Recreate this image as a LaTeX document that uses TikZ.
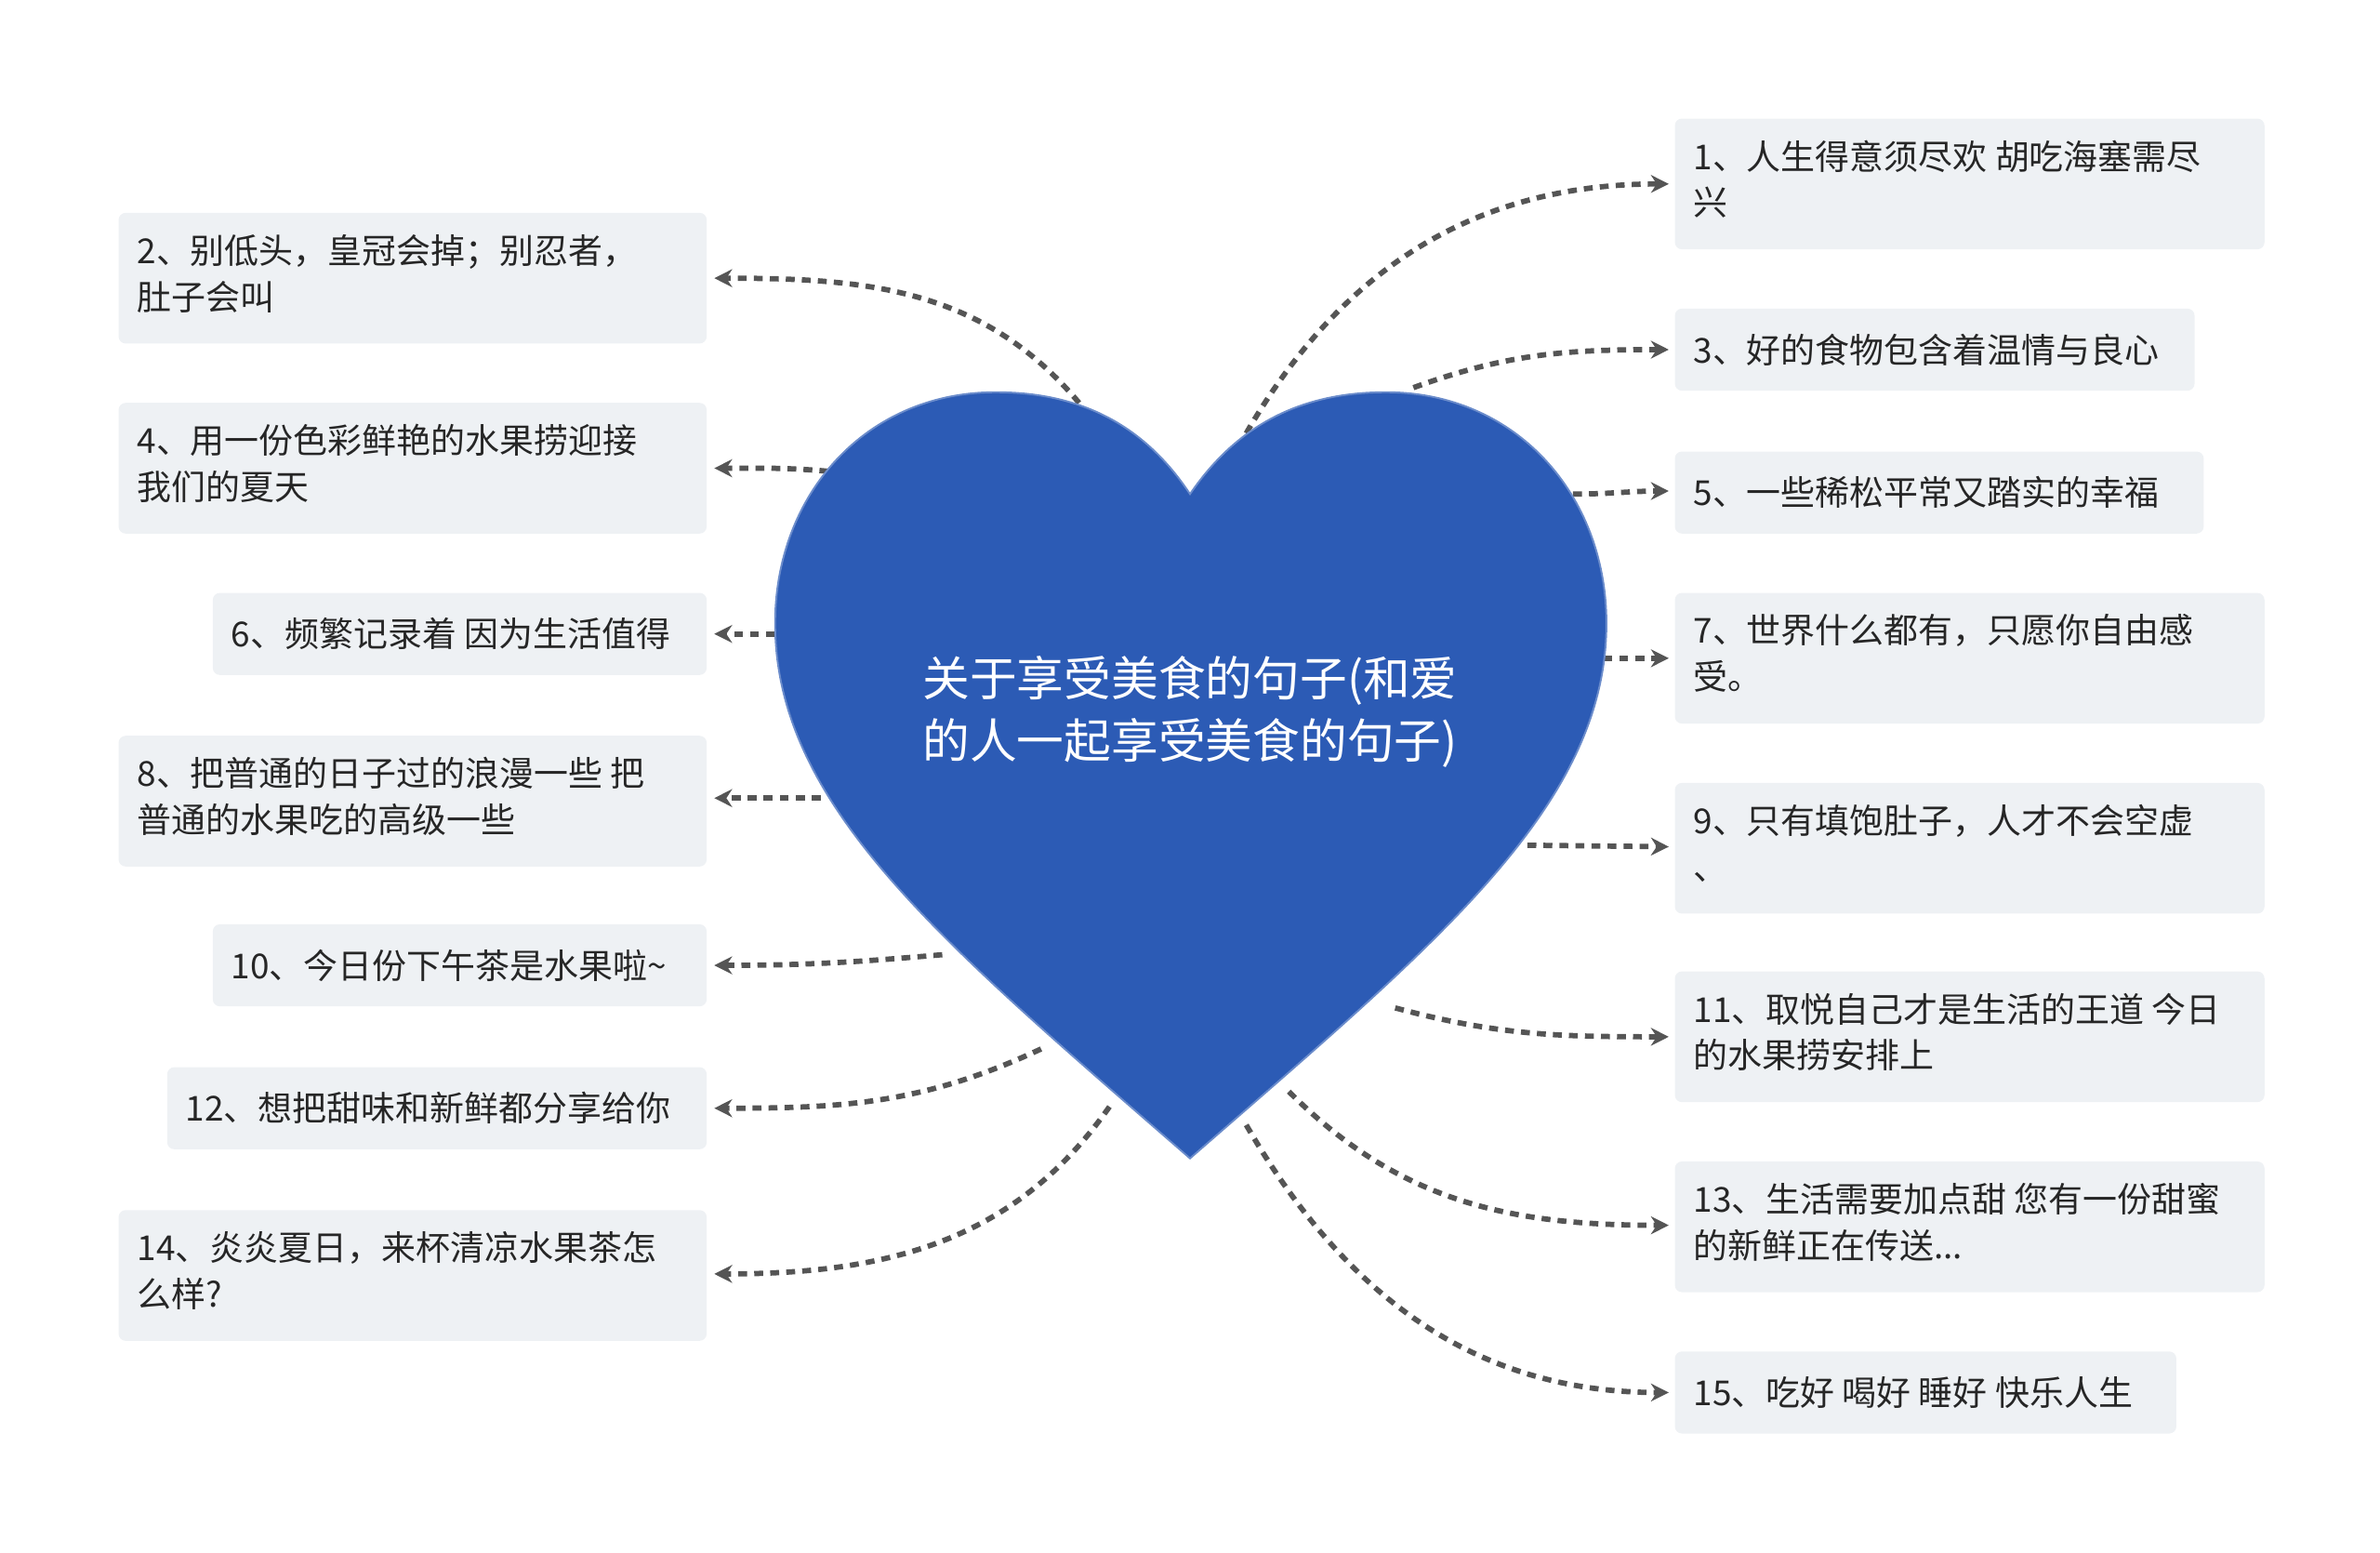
\documentclass[tikz,border=0pt]{standalone}
\usepackage{fontspec}
\setmainfont{Noto Sans CJK SC}
\usetikzlibrary{arrows.meta}
\definecolor{boxgray}{HTML}{EEF1F4}
\definecolor{heartblue}{HTML}{2C5BB5}
\definecolor{linkgray}{HTML}{555555}
\tikzset{
  leaf/.style={fill=boxgray,rounded corners=4pt,inner sep=0pt,font=\fontsize{19.3}{26}\selectfont,text=black!85},
  link/.style={draw=linkgray,line width=3pt,dash pattern=on 5pt off 4pt,-{Stealth[length=10pt,width=10pt]}}
}
\begin{document}
\begin{tikzpicture}[x=0.03cm,y=-0.03cm]
\useasboundingbox (0,0) rectangle (1566,1021);
% links from the heart
\draw[link] (710,265) to[out=130,in=0] (470,183);
\draw[link] (545,310) to[out=175,in=0] (470,308);
\draw[link] (510,417) -- (470,417);
\draw[link] (540,525) -- (470,525);
\draw[link] (620,628) to[out=185,in=0] (470,635);
\draw[link] (685,690) to[out=205,in=0] (470,729);
\draw[link] (730,728) to[out=235,in=0] (470,838);
\draw[link] (820,285) to[out=60,in=180] (1098,121);
\draw[link] (930,255) to[out=20,in=180] (1098,230);
\draw[link] (1035,325) to[out=0,in=180] (1098,323);
\draw[link] (1055,433) -- (1098,433);
\draw[link] (1005,556) -- (1098,557);
\draw[link] (918,663) to[out=-15,in=180] (1098,682);
\draw[link] (848,718) to[out=-45,in=180] (1098,806);
\draw[link] (820,740) to[out=-60,in=180] (1098,916);
% heart
\fill[heartblue,draw=heartblue!70!white,line width=1pt] (783,325)
  .. controls (750,275) and (705,258) .. (655,258)
  .. controls (570,258) and (510,325) .. (510,410)
  .. controls (510,530) and (620,620) .. (783,762)
  .. controls (946,620) and (1057,530) .. (1057,410)
  .. controls (1057,325) and (997,258) .. (912,258)
  .. controls (862,258) and (817,275) .. (783,325) -- cycle;
\node[text=white,align=left,font=\fontsize{26.5}{35}\selectfont] (root) at (783,468) {关于享受美食的句子(和爱\\的人一起享受美食的句子)};
% left leaves
\fill[boxgray,rounded corners=4pt] (78,140) rectangle (465,226);
\node[leaf,anchor=north west,align=left] (n2) at (90,154) {2、别低头，皇冠会掉；别忍者，\\肚子会叫};
\fill[boxgray,rounded corners=4pt] (78,265) rectangle (465,351);
\node[leaf,anchor=north west,align=left] (n4) at (90,279) {4、用一份色彩鲜艳的水果捞迎接\\我们的夏天};
\fill[boxgray,rounded corners=4pt] (140,390) rectangle (465,444);
\node[leaf,anchor=west] (n6) at (152,417) {6、频繁记录着 因为生活值得};
\fill[boxgray,rounded corners=4pt] (78,484) rectangle (465,570);
\node[leaf,anchor=north west,align=left] (n8) at (90,498) {8、把普通的日子过的浪漫一些 把\\普通的水果吃的高级一些};
\fill[boxgray,rounded corners=4pt] (140,608) rectangle (465,662);
\node[leaf,anchor=west] (n10) at (152,635) {10、今日份下午茶是水果啦\textasciitilde};
\fill[boxgray,rounded corners=4pt] (110,702) rectangle (465,756);
\node[leaf,anchor=west] (n12) at (122,729) {12、想把甜味和新鲜都分享给你};
\fill[boxgray,rounded corners=4pt] (78,796) rectangle (465,882);
\node[leaf,anchor=north west,align=left] (n14) at (90,810) {14、炎炎夏日，来杯清凉水果茶怎\\么样?};
% right leaves
\fill[boxgray,rounded corners=4pt] (1102,78) rectangle (1490,164);
\node[leaf,anchor=north west,align=left] (n1) at (1114,92) {1、人生得意须尽欢 胡吃海塞需尽\\兴};
\fill[boxgray,rounded corners=4pt] (1102,203) rectangle (1444,257);
\node[leaf,anchor=west] (n3) at (1114,230) {3、好的食物包含着温情与良心};
\fill[boxgray,rounded corners=4pt] (1102,297) rectangle (1450,351);
\node[leaf,anchor=west] (n5) at (1114,324) {5、一些稀松平常又踏实的幸福};
\fill[boxgray,rounded corners=4pt] (1102,390) rectangle (1490,476);
\node[leaf,anchor=north west,align=left] (n7) at (1114,404) {7、世界什么都有，只愿你自由感\\受。};
\fill[boxgray,rounded corners=4pt] (1102,515) rectangle (1490,601);
\node[leaf,anchor=north west,align=left] (n9) at (1114,529) {9、只有填饱肚子，人才不会空虚\\、};
\fill[boxgray,rounded corners=4pt] (1102,639) rectangle (1490,725);
\node[leaf,anchor=north west,align=left] (n11) at (1114,653) {11、取悦自己才是生活的王道 今日\\的水果捞安排上};
\fill[boxgray,rounded corners=4pt] (1102,764) rectangle (1490,850);
\node[leaf,anchor=north west,align=left] (n13) at (1114,778) {13、生活需要加点甜 您有一份甜蜜\\的新鲜正在传送...};
\fill[boxgray,rounded corners=4pt] (1102,889) rectangle (1432,943);
\node[leaf,anchor=west] (n15) at (1114,916) {15、吃好 喝好 睡好 快乐人生};
\end{tikzpicture}
\end{document}
